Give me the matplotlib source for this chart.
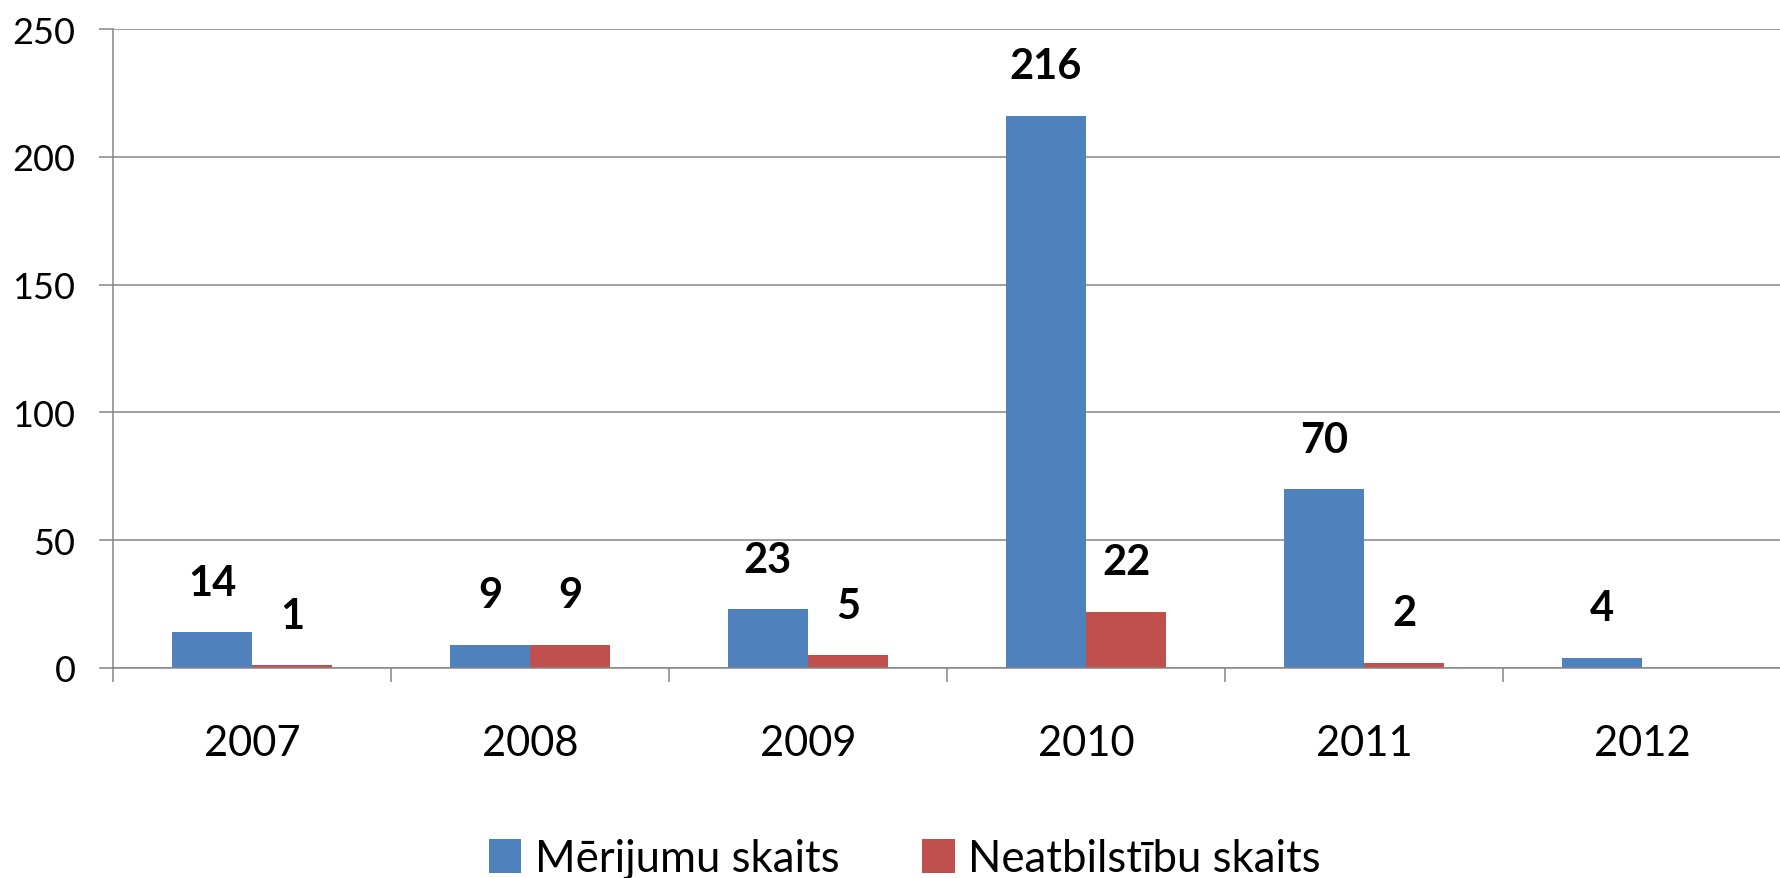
import numpy as np
import matplotlib.pyplot as plt

years = ["2007", "2008", "2009", "2010", "2011", "2012"]
merijumi = [14, 9, 23, 216, 70, 4]
neatbilst = [1, 9, 5, 22, 2, 0]
series_names = ["Mērijumu skaits", "Neatbilstību skaits"]

plt.rcParams['font.family'] = ['Lato', 'DejaVu Sans']

fig = plt.figure(figsize=(17.81, 8.79), dpi=100)
ax = fig.add_axes([113 / 1781, 1 - 669 / 879, 1 - 113 / 1781, (669 - 30) / 879])

x = np.arange(len(years))
w = 0.288
b1 = ax.bar(x - w / 2, merijumi, w, color="#4F81BD", label=series_names[0], zorder=3)
b2 = ax.bar(x + w / 2, neatbilst, w, color="#C0504D", label=series_names[1], zorder=3)

# data labels (skip empty values)
for bars, vals in [(b1, merijumi), (b2, neatbilst)]:
    for r, v in zip(bars, vals):
        if v == 0:
            continue
        ax.annotate(str(v), (r.get_x() + r.get_width() / 2, v), xytext=(0, 22),
                    textcoords="offset points", ha="center", va="bottom",
                    fontsize=30, fontweight="bold")

ax.set_xlim(-0.5, 5.5)
ax.set_ylim(0, 250)
ax.set_yticks(range(0, 251, 50))
ax.yaxis.grid(True, color="#868686", linewidth=1.1, zorder=0)

ax.set_xticks(x)
ax.set_xticklabels(years)
ax.set_xticks(np.arange(-0.5, 5.6, 1), minor=True)
ax.tick_params(axis="x", which="major", length=0, pad=40, labelsize=30)
ax.tick_params(axis="x", which="minor", length=10, width=1.1, color="#868686")
ax.tick_params(axis="y", length=10, width=1.1, color="#868686", pad=17, labelsize=26)

for s in ["top", "right"]:
    ax.spines[s].set_visible(False)
for s in ["left", "bottom"]:
    ax.spines[s].set_color("#868686")
    ax.spines[s].set_linewidth(1.1)
    ax.spines[s].set_zorder(4)

fig.legend(loc="center", bbox_to_anchor=(0.508, 0.022), ncol=2, frameon=False,
           fontsize=31.5, handlelength=0.75, handleheight=0.8, handletextpad=0.3,
           columnspacing=1.9)

fig.savefig("out.png", dpi=100)
